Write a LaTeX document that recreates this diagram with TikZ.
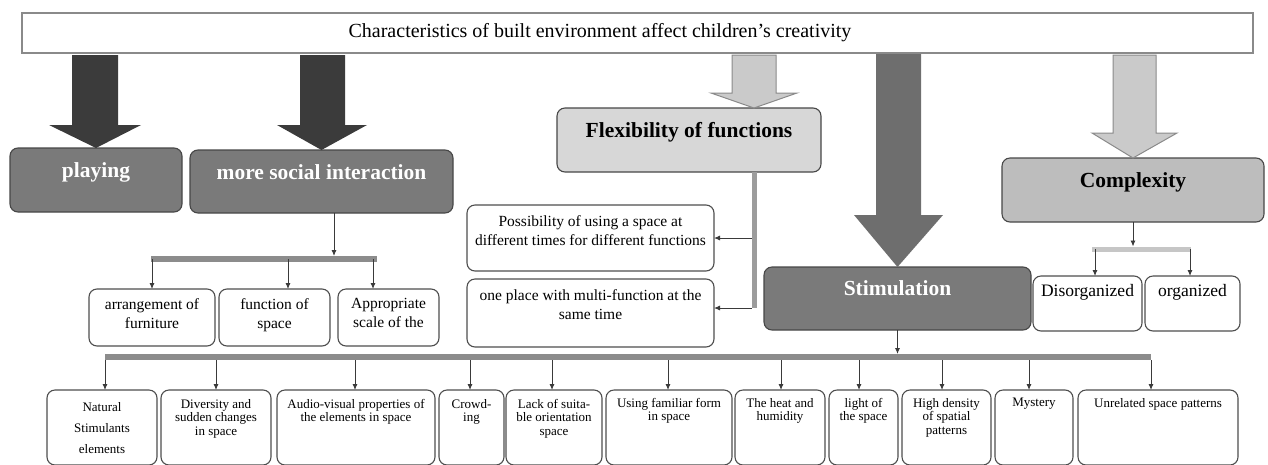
\documentclass[tikz,border=0pt]{standalone}
\usepackage{fontspec}
\setmainfont{Liberation Serif}
\usetikzlibrary{arrows.meta,calc}

\definecolor{arrowdark}{HTML}{3B3B3B}
\definecolor{arrowmid}{HTML}{6E6E6E}
\definecolor{arrowlight}{HTML}{CACACA}
\definecolor{arrowedge}{HTML}{8A8A8A}
\definecolor{headfill}{HTML}{7A7A7A}
\definecolor{headedge}{HTML}{474747}
\definecolor{flexfill}{HTML}{D7D7D7}
\definecolor{cplxfill}{HTML}{BDBDBD}
\definecolor{edge}{HTML}{4E4E4E}
\definecolor{barc}{HTML}{8C8C8C}
\definecolor{barlight}{HTML}{C6C6C6}
\definecolor{linec}{HTML}{3A3A3A}

\tikzset{
  panel/.style={draw=edge, line width=1.1pt, rounded corners=8pt, fill=white,
    inner sep=0pt, outer sep=0pt, anchor=north west},
  darkpanel/.style={panel, fill=headfill, draw=headedge},
  flexpanel/.style={panel, fill=flexfill, draw=headedge},
  cplxpanel/.style={panel, fill=cplxfill, draw=headedge},
  titlepanel/.style={panel, rounded corners=0pt, draw=arrowedge, line width=1.4pt},
  heading/.style={font=\fontsize{21.5}{24}\selectfont\bfseries, inner sep=0pt},
  whiteheading/.style={heading, text=white},
  midtext/.style={font=\fontsize{15.5}{19}\selectfont, align=center, inner sep=0pt, anchor=north},
  bigtext/.style={font=\fontsize{17.5}{20}\selectfont, align=center, inner sep=0pt, anchor=north},
  smalltext/.style={font=\fontsize{13}{13.6}\selectfont, align=center, inner sep=0pt, anchor=north},
  conn/.style={draw=linec, line width=0.9pt, -{Latex[length=6pt,width=5pt]}},
  thickbar/.style={draw=barc, line width=5.5pt},
  lightbar/.style={draw=barlight, line width=5pt},
  darkarrow/.style={fill=arrowdark},
  midarrow/.style={fill=arrowmid},
  lightarrow/.style={fill=arrowlight, draw=arrowedge, line width=1pt},
}

% \panelbox{style}{name}{x1}{y1}{x2}{y2}
\newcommand\panelbox[6]{%
  \node[#1, minimum width={(#5-#3)*1pt}, minimum height={(#6-#4)*1pt}] (#2) at (#3,#4) {};}
% \paneltext{style}{name}{offset from top}{text}
\newcommand\paneltext[4]{%
  \node[#1] (#2-t) at ($(#2.north)+(0,#3)$) {#4};}
% \dropto{name}{xshift}: connector from the lower bar down to a box
\newcommand\dropto[2]{%
  \draw[conn] ([xshift=#2pt]#1.north |- sbar) -- ([xshift=#2pt]#1.north);}

\begin{document}
\begin{tikzpicture}[x=1pt, y=-1pt]
\useasboundingbox (0,0) rectangle (1268,464);

% title bar
\panelbox{titlepanel}{top}{22}{13}{1253}{53}
\node[font=\fontsize{20}{24}\selectfont, inner sep=0pt] (top-t) at (600,33)
  {Characteristics of built environment affect children’s creativity};

% first-level boxes
\panelbox{darkpanel}{playing}{10}{148}{182}{212}
\panelbox{darkpanel}{social}{190}{150}{453}{213}
\panelbox{flexpanel}{flex}{557}{108}{821}{172}
\panelbox{darkpanel}{stim}{764}{267}{1031}{330}
\panelbox{cplxpanel}{cplx}{1002}{158}{1264}{222}

\node[whiteheading] (playing-t) at ($(playing.north)+(0,24)$) {playing};
\node[whiteheading] (social-t) at ($(social.north)+(0,22)$) {more social interaction};
\node[heading] (flex-t) at ($(flex.north)+(0,24)$) {Flexibility of functions};
\node[whiteheading] (stim-t) at ($(stim.north)+(0,21)$) {Stimulation};
\node[heading] (cplx-t) at ($(cplx.north)+(0,24)$) {Complexity};

% block arrows from the title bar
\fill[darkarrow] (72,55) -- (118,55) -- (118,125) -- (141,125) -- (playing.north)
  -- (49,125) -- (72,125) -- cycle;
\fill[darkarrow] (300,55) -- (345,55) -- (345,125) -- (367,125) -- (social.north)
  -- (277,125) -- (300,125) -- cycle;
\path[lightarrow] (732,55) -- (776,55) -- (776,93) -- (797,93) -- ([xshift=65pt]flex.north)
  -- (711,93) -- (732,93) -- cycle;
\fill[midarrow] (876,54) -- (921,54) -- (921,215) -- (943,215) -- (stim.north)
  -- (854,215) -- (876,215) -- cycle;
\path[lightarrow] (1113,55) -- (1156,55) -- (1156,133) -- (1177,133) -- (cplx.north)
  -- (1092,133) -- (1113,133) -- cycle;

% social interaction branch
\panelbox{panel}{arrange}{89}{289}{215}{346}
\panelbox{panel}{funcsp}{219}{289}{330}{346}
\panelbox{panel}{scale}{338}{289}{439}{346}
\paneltext{midtext}{arrange}{9.5}{arrangement of\\furniture}
\paneltext{midtext}{funcsp}{9.5}{function of\\space}
\paneltext{midtext}{scale}{9.5}{Appropriate\\scale of the}

\coordinate (qa) at (151,259);
\coordinate (qb) at (377,259);
\draw[thickbar] (qa) -- (qb);
\draw[conn] ([xshift=12.5pt]social.south) -- ($([xshift=12.5pt]social.south |- qa)+(0,-3)$);
\draw[conn] (arrange.north |- qa) -- (arrange.north);
\draw[conn] ([xshift=13.5pt]funcsp.north |- qa) -- ([xshift=13.5pt]funcsp.north);
\draw[conn] ([xshift=-15.5pt]scale.north |- qa) -- ([xshift=-15.5pt]scale.north);

% flexibility branch
\panelbox{panel}{possib}{467}{205}{714}{271}
\panelbox{panel}{oneplace}{467}{279}{714}{347}
\paneltext{midtext}{possib}{10.5}{Possibility of using a space at\\different times for different functions}
\paneltext{midtext}{oneplace}{10.5}{one place with multi-function at the\\same time}

\coordinate (fbot) at (754,308);
\draw[draw=arrowedge!85!white, line width=5pt] ([xshift=65pt]flex.south) -- (fbot);
\draw[conn] (possib.east -| fbot) ++(-2.5,0) -- (possib.east);
\draw[conn] ([yshift=5pt]oneplace.east -| fbot) ++(-2.5,0) -- ([yshift=5pt]oneplace.east);

% complexity branch
\panelbox{panel}{disorg}{1033}{276}{1142}{331}
\panelbox{panel}{org}{1145}{276}{1240}{331}
\paneltext{bigtext}{disorg}{8.5}{Disorganized}
\paneltext{bigtext}{org}{8.5}{organized}

\coordinate (ca) at (1092,249);
\coordinate (cb) at (1191,249);
\draw[lightbar] (ca) -- (cb);
\draw[conn] (cplx.south) -- ($(cplx.south |- ca)+(0,-2.5)$);
\draw[conn] ([xshift=7.5pt]disorg.north |- ca) -- ([xshift=7.5pt]disorg.north);
\draw[conn] ([xshift=-2.5pt]org.north |- ca) -- ([xshift=-2.5pt]org.north);

% stimulation branch
\panelbox{panel}{natural}{47}{390}{157}{465}
\panelbox{panel}{divers}{161}{390}{271}{465}
\panelbox{panel}{audio}{277}{390}{435}{465}
\panelbox{panel}{crowd}{439}{390}{504}{465}
\panelbox{panel}{lack}{506}{390}{602}{465}
\panelbox{panel}{using}{606}{390}{732}{465}
\panelbox{panel}{heat}{735}{390}{825}{465}
\panelbox{panel}{light}{829}{390}{898}{465}
\panelbox{panel}{dense}{902}{390}{991}{465}
\panelbox{panel}{myst}{995}{390}{1073}{465}
\panelbox{panel}{unrel}{1078}{390}{1238}{465}

\node[smalltext, font=\fontsize{13}{21}\selectfont] (natural-t) at ($(natural.north)+(0,12)$)
  {Natural\\Stimulants\\elements};
\paneltext{smalltext}{divers}{9}{Diversity and\\sudden changes\\in space}
\paneltext{smalltext}{audio}{9}{Audio-visual properties of\\the elements in space}
\paneltext{smalltext}{crowd}{9}{Crowd-\\ing}
\paneltext{smalltext}{lack}{9}{Lack of suita-\\ble orientation\\space}
\paneltext{smalltext}{using}{8}{Using familiar form\\in space}
\paneltext{smalltext}{heat}{8}{The heat and\\humidity}
\paneltext{smalltext}{light}{8}{light of\\the space}
\paneltext{smalltext}{dense}{8}{High density\\of spatial\\patterns}
\paneltext{smalltext}{myst}{8}{Mystery}
\paneltext{smalltext}{unrel}{8}{Unrelated space patterns}

\coordinate (sa) at (105,357);
\coordinate (sbar) at (1151,360);
\draw[thickbar] (sa) -- (sa -| sbar);
\draw[conn] (stim.south) -- ($(stim.south |- sa)+(0,-3)$);
\dropto{natural}{3}
\dropto{divers}{0}
\dropto{audio}{-1}
\dropto{crowd}{-1.5}
\dropto{lack}{-2}
\dropto{using}{-1}
\dropto{heat}{1}
\dropto{light}{-4.5}
\dropto{dense}{-4.5}
\dropto{myst}{-5}
\dropto{unrel}{-7}
\end{tikzpicture}
\end{document}
